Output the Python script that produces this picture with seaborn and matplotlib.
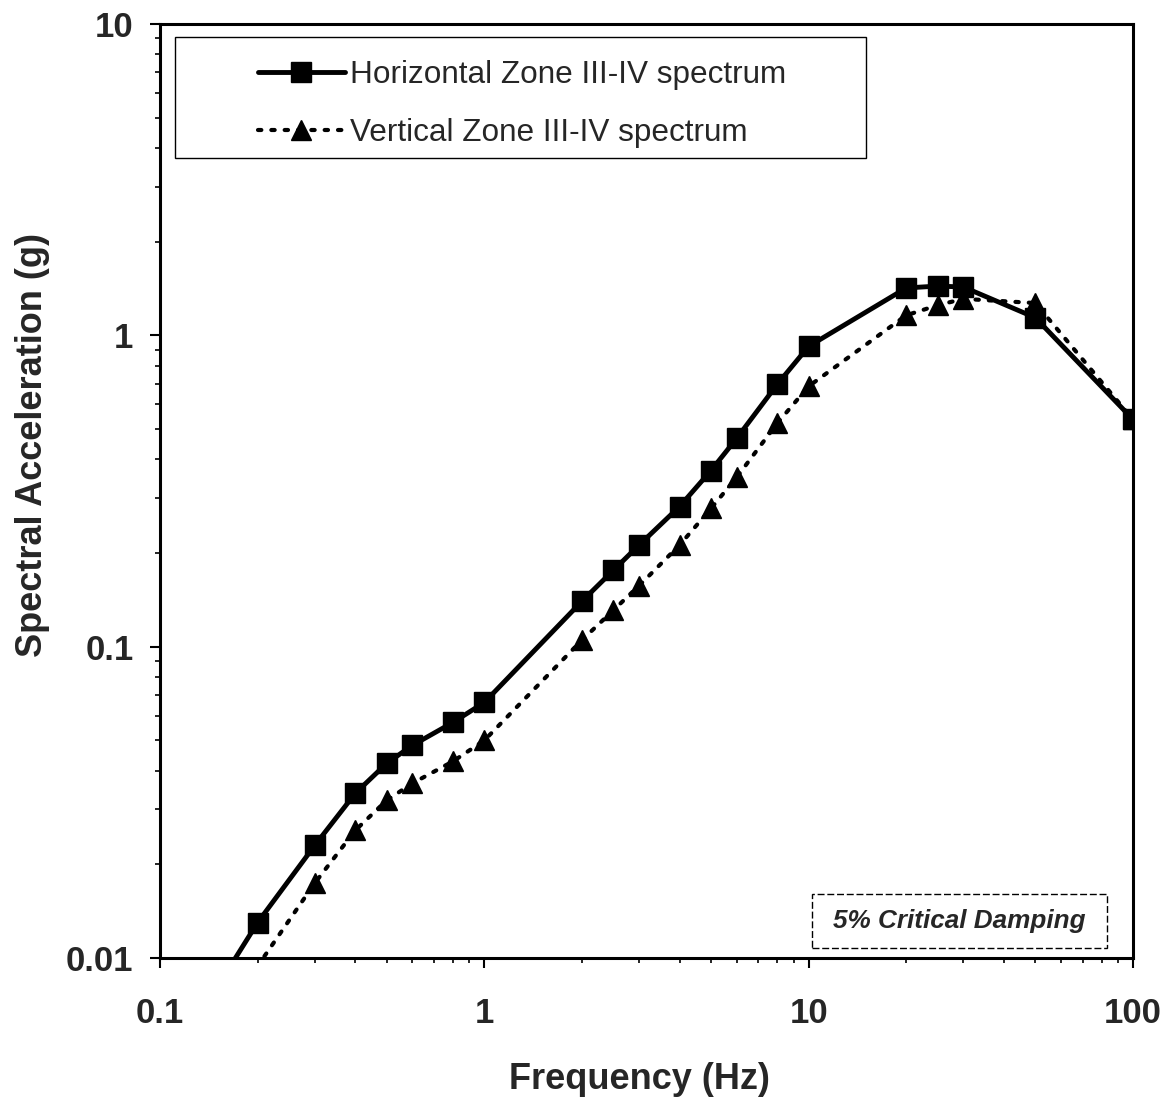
import numpy as np
import pandas as pd
import matplotlib
matplotlib.use('Agg')
import matplotlib.pyplot as plt
import matplotlib.ticker as mticker
from matplotlib.patches import Rectangle
import seaborn as sns

sns.set_style('ticks')
plt.rcParams['font.family'] = ['Liberation Sans', 'DejaVu Sans']

#spectrum values
aFreq_h = [0.1, 0.2, 0.3, 0.4, 0.5, 0.6, 0.8, 1.0, 2.0, 2.5, 3.0, 4.0, 5.0, 6.0, 8.0, 10.0, 20.0, 25.0, 30.0, 50.0, 100.0]
aSa_h = [0.0041, 0.0130, 0.0230, 0.0338, 0.0422, 0.0482, 0.0571, 0.0662, 0.140, 0.176, 0.212, 0.282, 0.368, 0.467, 0.696, 0.922, 1.42, 1.44, 1.43, 1.14, 0.537]
aFreq_v = [0.1, 0.3, 0.4, 0.5, 0.6, 0.8, 1.0, 2.0, 2.5, 3.0, 4.0, 5.0, 6.0, 8.0, 10.0, 20.0, 25.0, 30.0, 50.0, 100.0]
aSa_v = [0.0033, 0.0174, 0.0257, 0.0321, 0.0364, 0.0428, 0.0500, 0.105, 0.131, 0.157, 0.212, 0.278, 0.350, 0.522, 0.686, 1.16, 1.25, 1.31, 1.27, 0.537]

aTick_x = [0.1, 1, 10, 100]
aTick_x_label = ['0.1', '1', '10', '100']
aTick_y = [0.01, 0.1, 1, 10]
aTick_y_label = ['0.01', '0.1', '1', '10']

sLabel_h = 'Horizontal Zone III-IV spectrum'
sLabel_v = 'Vertical Zone III-IV spectrum'

fig = plt.figure(figsize=(11.62, 10.98), dpi=100)
ax = fig.add_axes([0.1377, 0.1275, 0.8373, 0.8506])

sns.lineplot(x=aFreq_h, y=aSa_h, ax=ax, color='black', linewidth=3.5,
             marker='s', markersize=14, markeredgecolor='black', markeredgewidth=1,
             label=sLabel_h)
sns.lineplot(x=aFreq_v, y=aSa_v, ax=ax, color='black', linewidth=3,
             linestyle=(0, (0.8, 2.4)), dash_capstyle='round',
             marker='^', markersize=15, markeredgecolor='black', markeredgewidth=1,
             label=sLabel_v)

ax.set_xscale('log')
ax.set_yscale('log')
ax.set_xlim(0.1, 100)
ax.set_ylim(0.01, 10)

ax.set_xticks(aTick_x, aTick_x_label, fontsize=25, fontweight='bold')
ax.set_yticks(aTick_y, aTick_y_label, fontsize=25, fontweight='bold')
ax.xaxis.set_minor_locator(mticker.LogLocator(base=10, subs=np.arange(2, 10)))
ax.yaxis.set_minor_locator(mticker.LogLocator(base=10, subs=np.arange(2, 10)))
ax.xaxis.set_minor_formatter(mticker.NullFormatter())
ax.yaxis.set_minor_formatter(mticker.NullFormatter())
ax.tick_params(which='major', direction='out', length=7, width=1.5, color='black')
ax.tick_params(which='minor', direction='out', length=3.5, width=1.2, color='black')
ax.tick_params(axis='x', which='major', pad=21)
ax.tick_params(axis='y', which='major', pad=12)

for spine in ax.spines.values():
    spine.set_linewidth(2.2)
    spine.set_color('black')

ax.set_xlabel('Frequency (Hz)', fontsize=26, fontweight='bold')
ax.set_ylabel('Spectral Acceleration (g)', fontsize=26, fontweight='bold')
ax.xaxis.set_label_coords(0.493, -0.111)
ax.yaxis.set_label_coords(-0.113, 0.549)

#legend, with its own box
ax.add_patch(Rectangle((0.0154, 0.8565), 0.7102, 0.1295, transform=ax.transAxes,
                       fill=False, edgecolor='black', linewidth=1.0, zorder=4))
ax.legend(loc='center left', bbox_to_anchor=(0.1007, 0.9144), frameon=False,
          fontsize=22.7, handlelength=2.76, handletextpad=0.15, labelspacing=0.9,
          borderpad=0, borderaxespad=0, numpoints=1)

#damping note
ax.add_patch(Rectangle((0.670, 0.0107), 0.303, 0.0578, transform=ax.transAxes,
                       fill=False, edgecolor='black', linewidth=1.0,
                       linestyle=(0, (5, 2)), zorder=4))
ax.text(0.822, 0.0396, '5% Critical Damping', transform=ax.transAxes,
        fontsize=18.8, fontweight='bold', fontstyle='italic', ha='center', va='center')

fig.savefig('out.png', dpi=100)
